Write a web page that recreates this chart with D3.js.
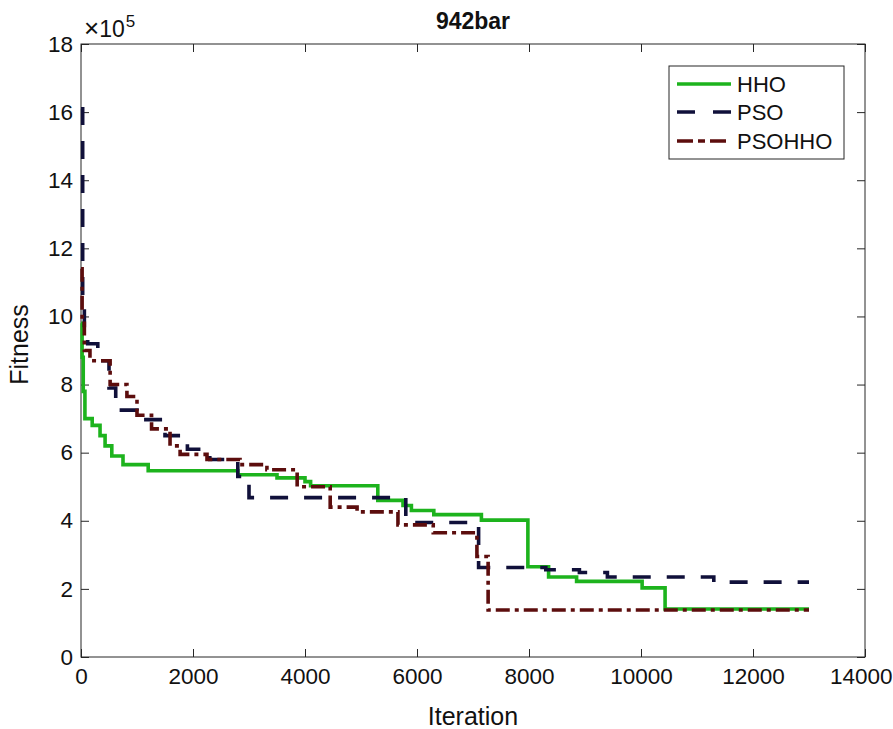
<!DOCTYPE html>
<html>
<head>
<meta charset="utf-8">
<script src="https://cdn.jsdelivr.net/npm/d3@7"></script>
<style>
  body { margin: 0; background: #fff; }
  svg { display: block; font-family: "Liberation Sans", Arial, sans-serif; }
</style>
</head>
<body>
<svg id="chart" width="893" height="729"></svg>
<script>
// Step-curve data: [iteration, fitness (x1e5)] — value holds until next point
const hho = [
  [0, 9.8], [20, 8.8], [40, 7.8], [70, 7.0], [200, 6.8], [340, 6.5], [430, 6.2],
  [550, 5.9], [750, 5.65], [1200, 5.47], [2800, 5.35], [3500, 5.26], [4000, 5.15],
  [4100, 5.03], [5300, 4.6], [5750, 4.45], [5900, 4.3], [6300, 4.18], [7150, 4.02],
  [7980, 2.65], [8350, 2.35], [8850, 2.22], [10020, 2.03], [10430, 1.41], [13000, 1.41]
];
const pso = [
  [0, 16.1], [30, 10.6], [60, 9.6], [120, 9.2], [300, 8.7], [500, 7.9], [620, 7.25],
  [1000, 6.97], [1500, 6.5], [1900, 6.1], [2300, 5.8], [2800, 5.3], [3000, 4.68],
  [5800, 3.95], [7100, 2.63], [8300, 2.56], [8900, 2.48], [9400, 2.35], [11300, 2.2],
  [13000, 2.2]
];
const psohho = [
  [0, 11.4], [20, 9.8], [60, 9.0], [160, 8.7], [520, 8.0], [820, 7.65], [1000, 7.1],
  [1260, 6.7], [1590, 6.2], [1770, 5.95], [2250, 5.8], [2840, 5.65], [3320, 5.5],
  [3860, 5.0], [4450, 4.4], [4930, 4.26], [5660, 3.88], [6290, 3.65], [7070, 2.95],
  [7270, 1.38], [13000, 1.38]
];
const xTicks = [0, 2000, 4000, 6000, 8000, 10000, 12000, 14000];
const yTicks = [0, 2, 4, 6, 8, 10, 12, 14, 16, 18];
const seriesNames = ["HHO", "PSO", "PSOHHO"];

const svg = d3.select("#chart");
const m = { left: 81, right: 865, top: 44, bottom: 657 };
const x = d3.scaleLinear().domain([0, 14000]).range([m.left, m.right]);
const y = d3.scaleLinear().domain([0, 18]).range([m.bottom, m.top]);

const axisColor = "#262626";
const fs = 22.5;

// box
svg.append("rect")
  .attr("x", m.left).attr("y", m.top)
  .attr("width", m.right - m.left).attr("height", m.bottom - m.top)
  .attr("fill", "none").attr("stroke", axisColor).attr("stroke-width", 1);

// axes (ticks inward)
const gx = svg.append("g").attr("transform", `translate(0,${m.bottom})`)
  .call(d3.axisBottom(x).tickValues(xTicks).tickSize(-8).tickPadding(11).tickFormat(d3.format("d")));
const gxTop = svg.append("g").attr("transform", `translate(0,${m.top})`)
  .call(d3.axisTop(x).tickValues(xTicks).tickSize(-8).tickFormat(""));
const gy = svg.append("g").attr("transform", `translate(${m.left},0)`)
  .call(d3.axisLeft(y).tickValues(yTicks).tickSize(-8).tickPadding(8).tickFormat(d3.format("d")));
const gyR = svg.append("g").attr("transform", `translate(${m.right},0)`)
  .call(d3.axisRight(y).tickValues(yTicks).tickSize(-8).tickFormat(""));
[gx, gxTop, gy, gyR].forEach(g => {
  g.select(".domain").remove();
  g.selectAll(".tick line").attr("stroke", axisColor);
  g.selectAll("text").attr("fill", "#111").style("font-size", fs + "px");
});
// keep the last x label inside the page (reference runs it to the edge)
gx.selectAll(".tick text").filter(d => d === 14000)
  .attr("text-anchor", "end").attr("x", 892 - m.right);

// lines
const line = d3.line().x(d => x(d[0])).y(d => y(d[1])).curve(d3.curveStepAfter);
const styles = [
  { data: hho, color: "#1db31d", dash: null },
  { data: pso, color: "#10103a", dash: "18,16" },
  { data: psohho, color: "#5c0d0d", dash: "14,5,4,5" }
];
const plot = svg.append("g");
styles.forEach(s => {
  plot.append("path").datum(s.data)
    .attr("d", line).attr("fill", "none")
    .attr("stroke", s.color).attr("stroke-width", 3.6)
    .attr("stroke-dasharray", s.dash);
});

// title
svg.append("text").attr("x", (m.left + m.right) / 2).attr("y", 29)
  .attr("text-anchor", "middle").attr("font-weight", "bold")
  .style("font-size", "23px").attr("fill", "#111").text("942bar");

// exponent
const ex = svg.append("text").attr("x", 84).attr("y", 37).attr("fill", "#111").style("font-size", "23px");
ex.append("tspan").style("font-size", "26px").text("×");
ex.append("tspan").text("10");
ex.append("tspan").attr("dy", -10).attr("dx", 1).style("font-size", "17px").text("5");

// axis labels
svg.append("text").attr("x", (m.left + m.right) / 2).attr("y", 725)
  .attr("text-anchor", "middle").style("font-size", "25px").attr("fill", "#111").text("Iteration");
svg.append("text").attr("transform", `translate(28,${(m.top + m.bottom) / 2 - 6}) rotate(-90)`)
  .attr("text-anchor", "middle").style("font-size", "25px").attr("fill", "#111").text("Fitness");

// legend
const lg = svg.append("g");
lg.append("rect").attr("x", 669).attr("y", 66).attr("width", 175).attr("height", 93)
  .attr("fill", "#fff").attr("stroke", axisColor).attr("stroke-width", 1);
const rows = [84, 112, 141];
seriesNames.forEach((n, i) => {
  lg.append("line").attr("x1", 677).attr("x2", 731).attr("y1", rows[i]).attr("y2", rows[i])
    .attr("stroke", styles[i].color).attr("stroke-width", 3.6)
    .attr("stroke-dasharray", i === 1 ? "18,18" : (i === 2 ? "16,5,7,5" : null));
  lg.append("text").attr("x", 737).attr("y", rows[i] + 8).style("font-size", "22px")
    .attr("fill", "#111").text(n);
});
</script>
</body>
</html>
